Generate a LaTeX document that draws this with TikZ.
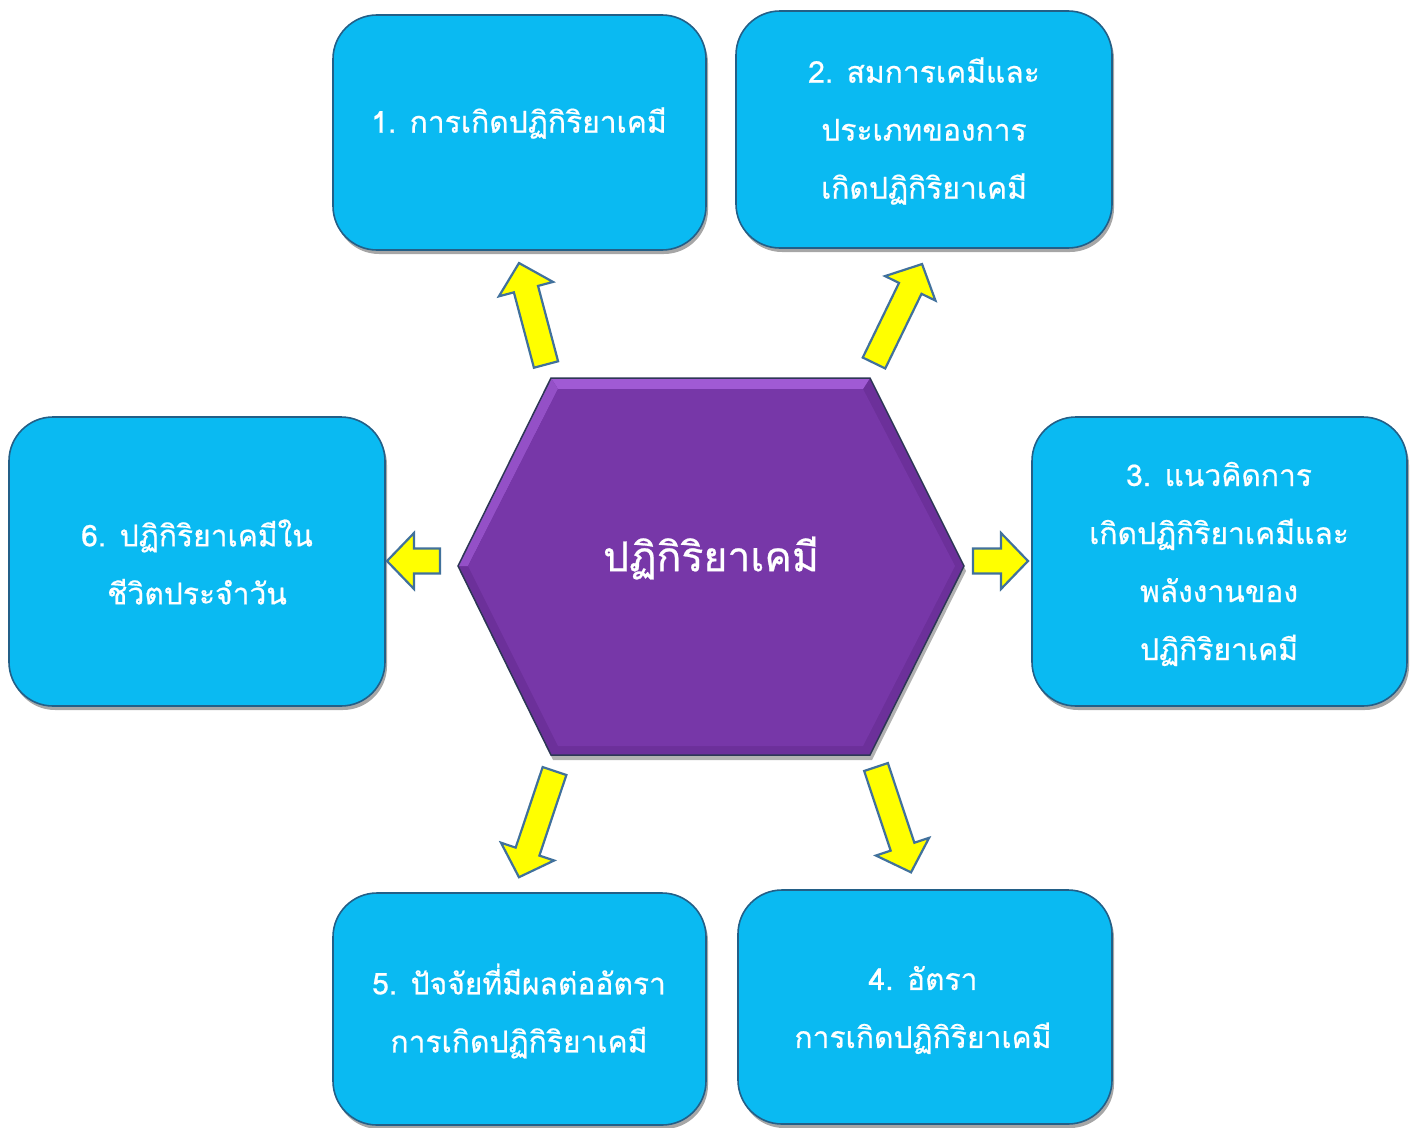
\documentclass[tikz,border=0pt]{standalone}
\usepackage{fontspec}
\newfontfamily\thaifont[Script=Thai, FakeBold=0.6]{Loma}
\usetikzlibrary{shadows}
\definecolor{boxfill}{RGB}{10,186,242}
\definecolor{boxedge}{RGB}{35,95,135}
\definecolor{hexfill}{RGB}{119,55,168}
\definecolor{hexdark}{RGB}{108,48,154}
\definecolor{hexlight}{RGB}{160,90,212}
\definecolor{hexedge}{RGB}{45,55,85}
\definecolor{arrowfill}{RGB}{255,255,0}
\definecolor{arrowedge}{RGB}{65,113,156}
\tikzset{
  topicbox/.style={draw=boxedge, line width=1.6pt, fill=boxfill, rounded corners=44pt,
    drop shadow={shadow xshift=2pt, shadow yshift=-4pt, opacity=0.35, fill=black}},
  boxtext/.style={text=white, align=center, font=\thaifont\fontsize{30}{58}\selectfont},
  hubtext/.style={text=white, align=center, font=\thaifont\fontsize{41}{48}\selectfont},
  yarrow/.style={draw=arrowedge, line width=2.2pt, fill=arrowfill, line join=miter}
}
\newcommand\blkarrow[3]{%
  \begin{scope}[shift={#1}, rotate=#2]
    \draw[yarrow] (0,-12.5) -- ({#3-27},-12.5) -- ({#3-27},-28) -- (#3,0)
      -- ({#3-27},28) -- ({#3-27},12.5) -- (0,12.5) -- cycle;
  \end{scope}}
\begin{document}
\begin{tikzpicture}[x=1pt, y=-1pt]
\useasboundingbox (0,0) rectangle (1415,1127);
\fill[white] (0,0) rectangle (1415,1127);

% central hexagon
\coordinate (h1) at (551,378);
\coordinate (h2) at (870,378);
\coordinate (h3) at (964,566);
\coordinate (h4) at (870,755);
\coordinate (h5) at (551,755);
\coordinate (h6) at (458,566);
\coordinate (i1) at (558,389);
\coordinate (i2) at (863,389);
\coordinate (i3) at (955,566);
\coordinate (i4) at (863,746);
\coordinate (i5) at (558,746);
\coordinate (i6) at (468,566);
\fill[black, opacity=0.3] ([shift={(2,5)}]h1) -- ([shift={(2,5)}]h2) -- ([shift={(2,5)}]h3)
  -- ([shift={(2,5)}]h4) -- ([shift={(2,5)}]h5) -- ([shift={(2,5)}]h6) -- cycle;
\fill[hexdark] (h1) -- (h2) -- (h3) -- (h4) -- (h5) -- (h6) -- cycle;
\fill[hexlight] (h1) -- (h2) -- (i2) -- (i1) -- cycle;
\fill[hexlight!70!hexfill] (h6) -- (h1) -- (i1) -- (i6) -- cycle;
\fill[hexfill] (i1) -- (i2) -- (i3) -- (i4) -- (i5) -- (i6) -- cycle;
\draw[hexedge, line width=1.5pt] (h1) -- (h2) -- (h3) -- (h4) -- (h5) -- (h6) -- cycle;
\node[hubtext] (hub) at (711,558) {ปฏิกิริยาเคมี};

% topic boxes
\node[topicbox, minimum width=373pt, minimum height=235pt] (b1) at (519.5,132.5) {};
\node[topicbox, minimum width=376pt, minimum height=237pt] (b2) at (924,129.5) {};
\node[topicbox, minimum width=375pt, minimum height=289pt] (b3) at (1219.5,561.5) {};
\node[topicbox, minimum width=374pt, minimum height=234pt] (b4) at (925,1007) {};
\node[topicbox, minimum width=373pt, minimum height=232pt] (b5) at (519.5,1009) {};
\node[topicbox, minimum width=376pt, minimum height=289pt] (b6) at (197,561.5) {};

\node[boxtext] (t1) at (519,123) {1. การเกิดปฏิกิริยาเคมี};
\node[boxtext] (t2) at (924,131) {2. สมการเคมีและ\\ประเภทของการ\\เกิดปฏิกิริยาเคมี};
\node[boxtext] (t3) at (1219,564) {3. แนวคิดการ\\เกิดปฏิกิริยาเคมีและ\\พลังงานของ\\ปฏิกิริยาเคมี};
\node[boxtext] (t4) at (923,1010) {4. อัตรา\\การเกิดปฏิกิริยาเคมี};
\node[boxtext] (t5) at (519,1011) {5. ปัจจัยที่มีผลต่ออัตรา\\การเกิดปฏิกิริยาเคมี};
\node[boxtext] (t6) at (197,562) {6. ปฏิกิริยาเคมีใน\\ชีวิตประจำวัน};

% block arrows
\blkarrow{(546,364.5)}{104.9}{105}
\blkarrow{(874,363)}{64.1}{110}
\blkarrow{(973,561)}{0}{55}
\blkarrow{(876,767)}{288.4}{111}
\blkarrow{(554.5,771)}{251.5}{112}
\blkarrow{(440,561)}{180}{53}
\end{tikzpicture}
\end{document}
